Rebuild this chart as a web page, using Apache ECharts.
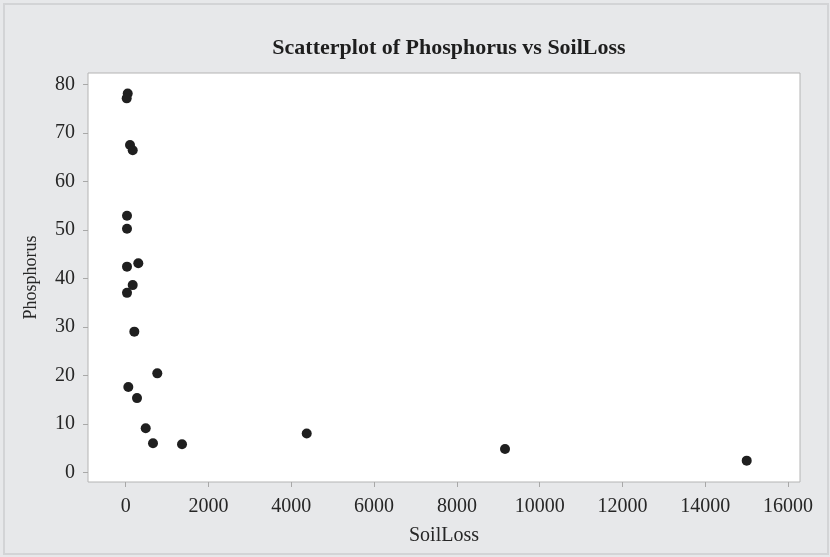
<!DOCTYPE html>
<html>
<head>
<meta charset="utf-8">
<script src="https://cdn.jsdelivr.net/npm/echarts@6/dist/echarts.min.js"></script>
<style>
  html, body { margin: 0; padding: 0; background: #e7e8ea; }
  #chart { width: 830px; height: 557px; }
</style>
</head>
<body>
<div id="chart"></div>
<script>
// Soil loss vs phosphorus observations
const soilLoss   = [48, 24, 104, 169, 31, 31, 31, 304, 169, 31, 208, 763, 63, 273, 483, 659, 1360, 4372, 9162, 15000];
const phosphorus = [78.1, 77.1, 67.5, 66.4, 52.9, 50.2, 42.4, 43.1, 38.6, 37.0, 29.0, 20.4, 17.6, 15.3, 9.1, 6.0, 5.8, 8.0, 4.8, 2.4];

// Axis tick positions
const xTicks = [0, 2000, 4000, 6000, 8000, 10000, 12000, 14000, 16000];
const yTicks = [0, 10, 20, 30, 40, 50, 60, 70, 80];

const points = soilLoss.map((x, i) => [x, phosphorus[i]]);

const serif = '"Liberation Serif", "DejaVu Serif", serif';
const textColor = '#262626';
const tickColor = '#a8a8a8';
const plain = v => String(v);

const chart = echarts.init(document.getElementById('chart'), null, { renderer: 'canvas' });
chart.setOption({
  backgroundColor: '#e7e8ea',
  animation: false,
  graphic: [{
    type: 'rect',
    shape: { x: 4, y: 4, width: 824, height: 550 },
    style: { fill: 'none', stroke: '#d3d4d6', lineWidth: 2 },
    silent: true,
    z: -1
  }],
  title: {
    text: 'Scatterplot of Phosphorus vs SoilLoss',
    left: 444,
    top: 32,
    textAlign: 'center',
    textStyle: { fontFamily: serif, fontSize: 22, fontWeight: 'bold', color: '#1e1e1e' }
  },
  grid: {
    left: 88, top: 73, right: 30, bottom: 75,
    show: true,
    backgroundColor: '#ffffff',
    borderColor: '#b4b4b4',
    borderWidth: 1
  },
  xAxis: {
    type: 'value',
    min: -911,
    max: 16287,
    name: 'SoilLoss',
    nameLocation: 'middle',
    nameGap: 44,
    nameTextStyle: { fontFamily: serif, fontSize: 20, color: textColor },
    axisLine: { show: false, onZero: false },
    splitLine: { show: false },
    axisTick: { show: true, inside: false, length: 5, lineStyle: { color: tickColor }, customValues: xTicks },
    axisLabel: { fontFamily: serif, fontSize: 20, color: textColor, margin: 15, formatter: plain, customValues: xTicks }
  },
  yAxis: {
    type: 'value',
    min: -2.0,
    max: 82.33,
    name: 'Phosphorus',
    nameLocation: 'middle',
    nameGap: 48,
    nameTextStyle: { fontFamily: serif, fontSize: 18, color: textColor },
    axisLine: { show: false, onZero: false },
    splitLine: { show: false },
    axisTick: { show: true, inside: false, length: 5, lineStyle: { color: tickColor }, customValues: yTicks },
    axisLabel: { fontFamily: serif, fontSize: 20, color: textColor, margin: 13, formatter: plain, customValues: yTicks }
  },
  series: [{
    type: 'scatter',
    data: points,
    symbol: 'circle',
    symbolSize: 10,
    itemStyle: { color: '#1f1f1f', opacity: 1 }
  }]
});
</script>
</body>
</html>
